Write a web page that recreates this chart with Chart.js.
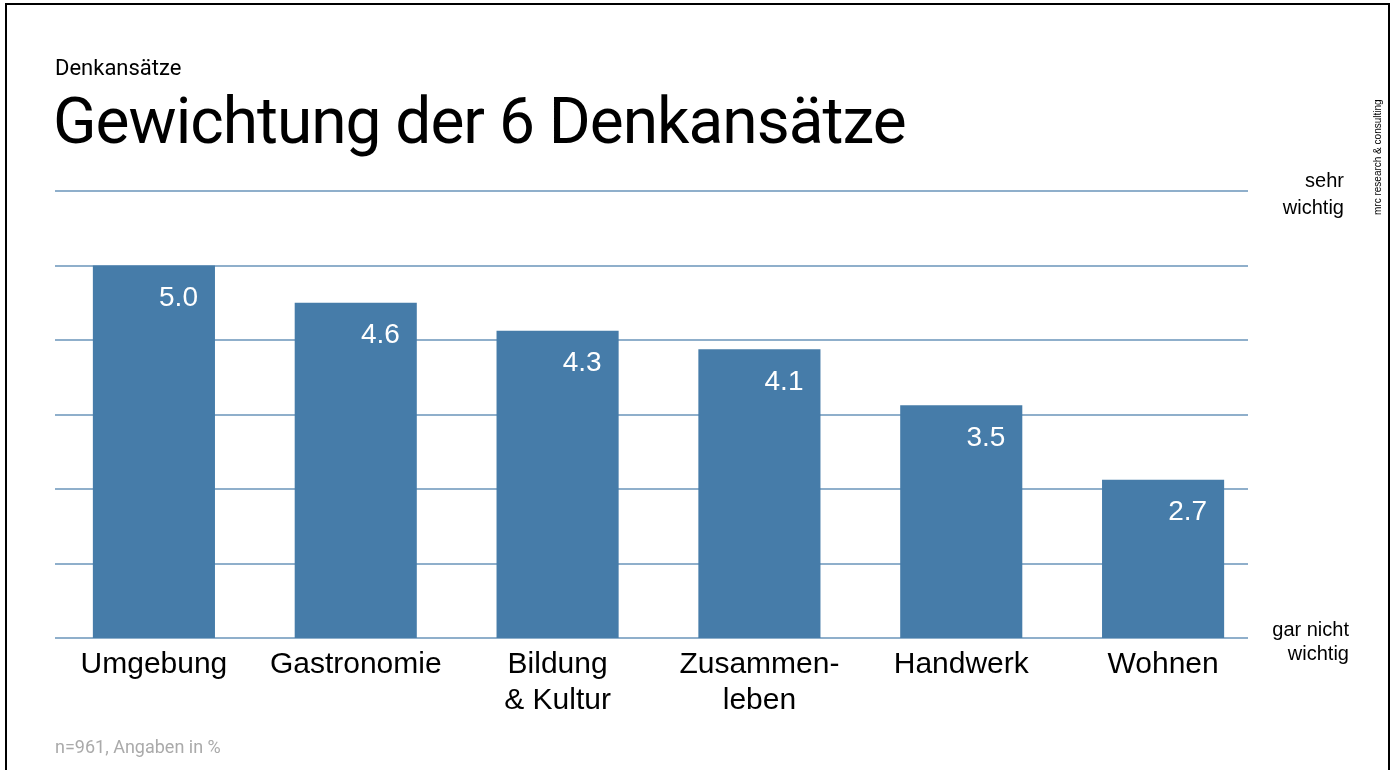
<!DOCTYPE html>
<html lang="de">
<head>
<meta charset="utf-8">
<title>Gewichtung der 6 Denkansätze</title>
<script src="https://cdn.jsdelivr.net/npm/chart.js@4.4.0/dist/chart.umd.min.js"></script>
<style>
  html, body { margin: 0; padding: 0; background: #fff; }
  body { width: 1394px; height: 770px; position: relative; overflow: hidden; font-family: "Liberation Sans", Arial, sans-serif; }
  #rahmen { position: absolute; left: 5px; top: 3px; width: 1385px; height: 780px; border: 2px solid #000; box-sizing: border-box; }
  #wrap { position: absolute; left: 0; top: 0; width: 1394px; height: 770px; }
  .txt { position: absolute; color: #000; white-space: nowrap; }
  #kicker { left: 55px; top: 55px; font-family: Roboto, sans-serif; font-size: 22px; }
  #titel { left: 53px; top: 84px; font-family: Roboto, sans-serif; font-size: 64px; letter-spacing: -1px; }
  #oben { right: 50px; top: 167px; font-size: 20px; line-height: 27px; text-align: right; }
  #unten { right: 45px; top: 617px; font-size: 20px; line-height: 24px; text-align: right; }
  #quelle { left: 55px; top: 736px; font-family: Roboto, sans-serif; font-size: 18px; color: #aaa; }
  #firma { left: 1372px; top: 215px; font-size: 10px; transform-origin: 0 0; transform: rotate(-90deg); }
</style>
</head>
<body>
<div id="rahmen"></div>
<div id="wrap"><canvas id="myChart" width="1394" height="770"></canvas></div>
<div class="txt" id="kicker">Denkansätze</div>
<div class="txt" id="titel">Gewichtung der 6 Denkansätze</div>
<div class="txt" id="oben">sehr<br>wichtig</div>
<div class="txt" id="unten">gar nicht<br>wichtig</div>
<div class="txt" id="quelle">n=961, Angaben in %</div>
<div class="txt" id="firma">mrc research &amp; consulting</div>
<script>
// Daten
var kategorien = ['Umgebung', 'Gastronomie', ['Bildung', '& Kultur'], ['Zusammen-', 'leben'], 'Handwerk', 'Wohnen'];
var werte = [5.0, 4.6, 4.3, 4.1, 3.5, 2.7];
var skalaMin = 1;
var skalaMax = 5.8;
var skalaSchritt = 0.8;

var balkenFarbe = '#467ca9';
var linienFarbe = '#8fafcb';

// Gitterlinien selbst zeichnen (etwas kürzer als die Kategorienachse)
var gitterPlugin = {
    id: 'gitter',
    beforeDatasetsDraw: function(chart) {
        var c = chart.ctx;
        var y = chart.scales.y;
        var area = chart.chartArea;
        c.save();
        c.strokeStyle = linienFarbe;
        c.lineWidth = 2;
        y.ticks.forEach(function(t) {
            var py = Math.round(y.getPixelForValue(t.value));
            c.beginPath();
            c.moveTo(area.left + 2, py);
            c.lineTo(area.right - 16, py);
            c.stroke();
        });
        c.restore();
    }
};

// Werte weiß in den Balken
var wertPlugin = {
    id: 'werte',
    afterDatasetsDraw: function(chart) {
        var c = chart.ctx;
        var meta = chart.getDatasetMeta(0);
        c.save();
        c.fillStyle = '#fff';
        c.font = '28px "Liberation Sans", Arial, sans-serif';
        c.textAlign = 'right';
        c.textBaseline = 'middle';
        meta.data.forEach(function(bar, i) {
            c.fillText(werte[i].toFixed(1), bar.x + bar.width / 2 - 17, bar.y + 33);
        });
        c.restore();
    }
};

var ctx = document.getElementById('myChart').getContext('2d');
var chart = new Chart(ctx, {
    type: 'bar',
    data: {
        labels: kategorien,
        datasets: [{
            data: werte,
            backgroundColor: balkenFarbe,
            borderWidth: 0,
            barPercentage: 0.605,
            categoryPercentage: 1
        }]
    },
    options: {
        responsive: false,
        animation: false,
        layout: {
            padding: { left: 53, right: 130, top: 191, bottom: 42 }
        },
        plugins: {
            legend: { display: false },
            tooltip: { enabled: false }
        },
        scales: {
            x: {
                grid: { display: false, drawTicks: false },
                border: { display: false },
                ticks: {
                    color: '#000',
                    padding: 9,
                    maxRotation: 0,
                    autoSkip: false,
                    font: { family: '"Liberation Sans", Arial, sans-serif', size: 30, lineHeight: 1.2 }
                }
            },
            y: {
                display: false,
                min: skalaMin,
                max: skalaMax,
                ticks: { stepSize: skalaSchritt }
            }
        }
    },
    plugins: [gitterPlugin, wertPlugin]
});
</script>
</body>
</html>
